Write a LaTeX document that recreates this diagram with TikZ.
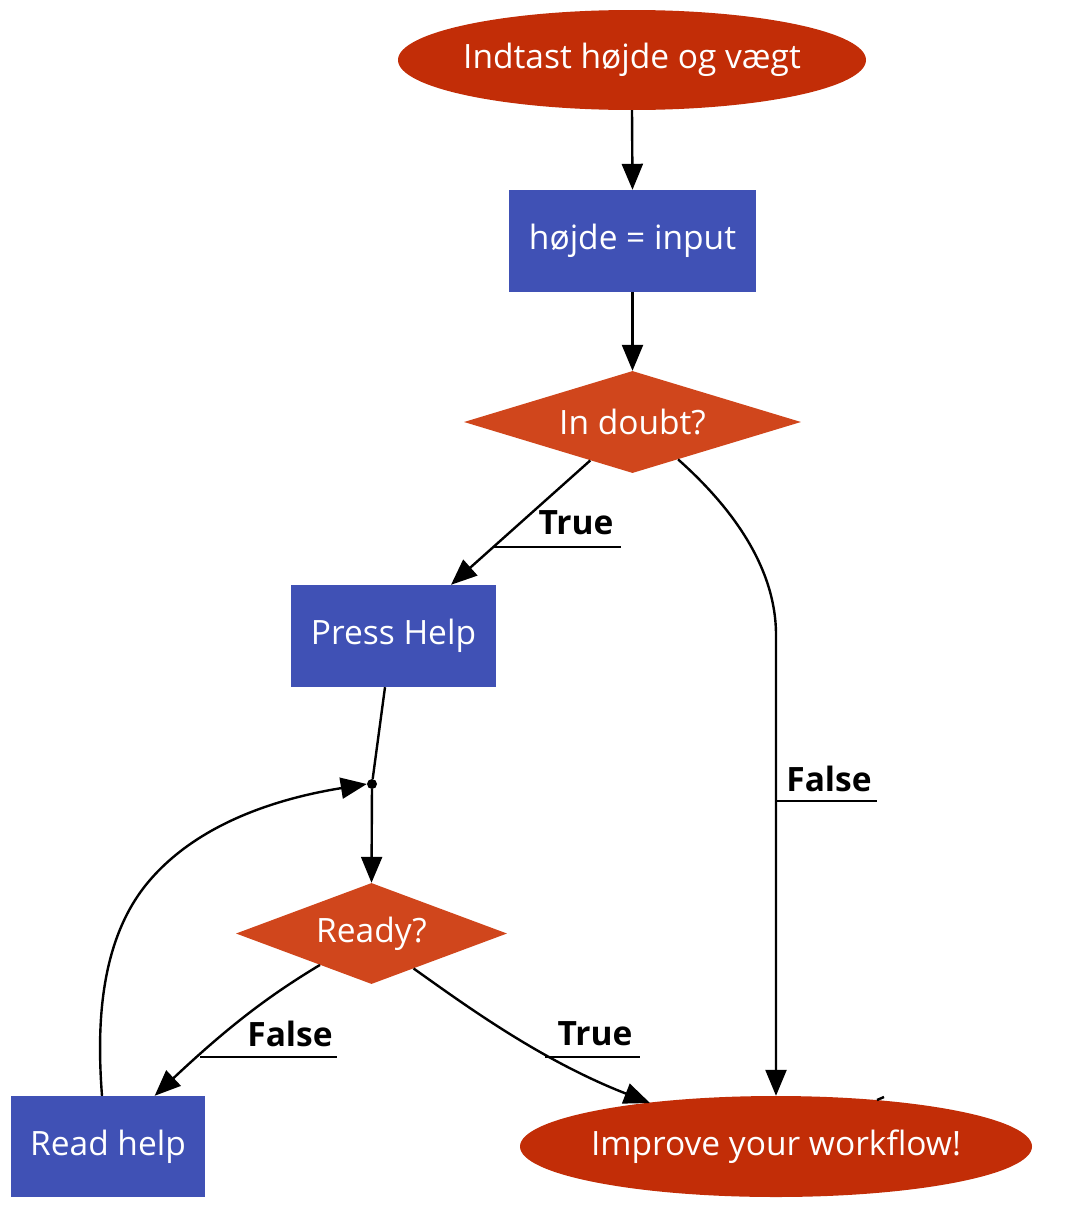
\documentclass[tikz,border=0pt]{standalone}
\usepackage{fontspec}
\setmainfont{Open Sans}
\usetikzlibrary{shapes.geometric,arrows.meta,calc}
\definecolor{ellred}{HTML}{C22D07}
\definecolor{diared}{HTML}{D0461C}
\definecolor{boxblue}{HTML}{4051B5}
\tikzset{
  txt/.style={text=white,font=\fontsize{33.5}{38}\selectfont,inner sep=0},
  ell/.style={ellipse,fill=ellred,inner sep=0},
  boxnode/.style={rectangle,fill=boxblue,inner sep=0,txt},
  dia/.style={diamond,fill=diared,inner sep=0},
  lbl/.style={font=\fontsize{33.5}{38}\selectfont\bfseries,inner sep=0},
  edge/.style={line width=2.4pt,-{Triangle[length=26pt,width=21pt]}},
  plain/.style={line width=2.4pt},
  uline/.style={line width=2.4pt}
}
\begin{document}
\begin{tikzpicture}[x=1pt,y=-1pt]
\useasboundingbox (0,0) rectangle (1068,1218);
% nodes
\node[ell,minimum width=468pt,minimum height=100pt] (start) at (632,60) {};
\node[txt] (startt) at (start) {Indtast højde og vægt};
\node[boxnode,minimum width=247pt,minimum height=102pt] (hojde) at (632.5,241) {højde = input};
\node[dia,minimum width=337pt,minimum height=102pt] (doubt) at (632.5,422) {};
\node[txt] (doubtt) at (doubt) {In doubt?};
\node[boxnode,minimum width=205pt,minimum height=102pt] (press) at (393.5,636) {Press Help};
\node[circle,fill=black,minimum size=10pt,inner sep=0] (j) at (372,784) {};
\node[dia,minimum width=271pt,minimum height=101pt] (ready) at (371.5,933.5) {};
\node[txt] (readyt) at (ready) {Ready?};
\node[boxnode,minimum width=194pt,minimum height=101pt] (readh) at (108,1146.5) {Read help};
\node[ell,minimum width=512pt,minimum height=101pt] (improve) at (776,1146.5) {};
\node[txt] (improvet) at (improve) {Improve your workflow!};
% edges
\draw[edge] (start.south) -- (hojde.north);
\draw[edge] (hojde.south) -- (doubt.north);
\draw[edge] ($(doubt.south)!0.25!(doubt.west)$) -- ($(press.north west)!0.78!(press.north east)$);
\draw[edge] ($(doubt.south)!0.27!(doubt.east)$) .. controls (735,510) and (776,570) .. (776,635) -- (improve.north);
\draw[plain] ($(press.south)+(-8.5,0)$) -- (j);
\draw[edge] (j) -- (ready.north);
\draw[edge] ($(readh.north)+(-6,0)$) .. controls (97,1030) and (98,940) .. (150,880) .. controls (200,822) and (280,798) .. (j.west);
\draw[edge] ($(ready.south)!0.38!(ready.west)$) .. controls (270,995) and (230,1025) .. ($(readh.north east)!0.26!(readh.north west)$);
\draw[edge] ($(ready.south)!0.31!(ready.east)$) .. controls (465,1005) and (540,1060) .. (650,1103);
% labels
\node[lbl] (l1) at (576,523) {True};
\draw[uline] (494,547) -- (621,547);
\node[lbl] (l2) at (829,779) {False};
\draw[uline] (776,801) -- (877,801);
\node[lbl] (l3) at (290,1034) {False};
\draw[uline] (200,1057) -- (337,1057);
\node[lbl] (l4) at (595,1034) {True};
\draw[uline] (545,1057) -- (640,1057);
\draw[plain] (877,1100) -- (884,1097);
\end{tikzpicture}
\end{document}
